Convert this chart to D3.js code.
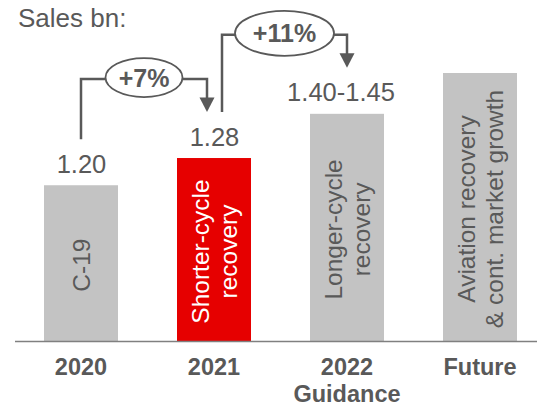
<!DOCTYPE html>
<html>
<head>
<meta charset="utf-8">
<script src="https://cdn.jsdelivr.net/npm/d3@7"></script>
<style>
  html, body { margin: 0; padding: 0; background: #fff; }
  svg { display: block; font-family: "Liberation Sans", Arial, Helvetica, sans-serif; }
</style>
</head>
<body>
<svg id="chart" width="537" height="405"></svg>
<script>
// ---- Data ----
const categories = ["2020", "2021", "2022", "Future"];
const categorySubLabels = ["", "", "Guidance", ""];
const salesValues = [1.20, 1.28, 1.41, 1.53];          // bar heights (bn)
const valueLabels = ["1.20", "1.28", "1.40-1.45", ""];
const barLabels = [["C-19"], ["Shorter-cycle", "recovery"], ["Longer-cycle", "recovery"], ["Aviation recovery", "& cont. market growth"]];
const highlight = [false, true, false, false];
const growthFrom = [0, 1];
const growthTo = [1, 2];
const growthLabels = ["+7%", "+11%"];
const yTitle = "Sales bn:";

// ---- Styles ----
const GREY = "#c3c3c3", RED = "#e60000", TXT = "#595959";

const svg = d3.select("#chart");
const baseline = 341;

const x = d3.scaleBand().domain(categories).range([14.5, 546.5]).paddingInner(0.4436).paddingOuter(0.2218);
const y = d3.scaleLinear().domain([0.742, 1.53]).range([baseline, 73]);

// title
svg.append("text").attr("x", 18).attr("y", 27).attr("font-size", 26).attr("fill", TXT).text(yTitle);

// bars
svg.selectAll("rect.bar").data(categories).join("rect")
  .attr("class", "bar")
  .attr("x", d => x(d))
  .attr("width", x.bandwidth())
  .attr("y", (d, i) => y(salesValues[i]))
  .attr("height", (d, i) => baseline - y(salesValues[i]))
  .attr("fill", (d, i) => highlight[i] ? RED : GREY);

// axis line
svg.append("line").attr("x1", 15).attr("x2", 537).attr("y1", baseline + 0.5).attr("y2", baseline + 0.5)
  .attr("stroke", "#808080").attr("stroke-width", 1.5);

// category labels
categories.forEach((c, i) => {
  const t = svg.append("text").attr("x", x(c) + x.bandwidth() / 2).attr("y", 374.5)
    .attr("text-anchor", "middle").attr("font-size", 23.5).attr("font-weight", "bold").attr("fill", TXT);
  t.append("tspan").attr("x", x(c) + x.bandwidth() / 2).text(c);
  if (categorySubLabels[i]) t.append("tspan").attr("x", x(c) + x.bandwidth() / 2).attr("dy", 27).text(categorySubLabels[i]);
});

// value labels
const valueDx = [0.5, 0.5, -6, 0];
categories.forEach((c, i) => {
  if (!valueLabels[i]) return;
  svg.append("text").attr("x", x(c) + x.bandwidth() / 2 + valueDx[i]).attr("y", y(salesValues[i]) - 12.5)
    .attr("text-anchor", "middle").attr("font-size", 25.5).attr("fill", TXT).text(valueLabels[i]);
});

// rotated in-bar labels
categories.forEach((c, i) => {
  const cx = x(c) + x.bandwidth() / 2;
  const cy = (y(salesValues[i]) + baseline) / 2 + 2;
  const lines = barLabels[i];
  const L = 28;
  const g = svg.append("text").attr("transform", `translate(${cx},${cy}) rotate(-90)`)
    .attr("text-anchor", "middle").attr("font-size", 24.5).attr("fill", highlight[i] ? "#ffffff" : TXT);
  lines.forEach((ln, k) => {
    const off = (k - (lines.length - 1) / 2) * L + 8.8;
    g.append("tspan").attr("x", 0).attr("y", off).text(ln);
  });
});

// growth brackets
const LC = "#595959";
const ellR = [[38.5, 19.5], [49.5, 22.5]];
const startDx = [0, 8];
const endDx = [-7, 0];
growthLabels.forEach((lab, k) => {
  const a = growthFrom[k], b = growthTo[k];
  const x0 = x(categories[a]) + x.bandwidth() / 2 + startDx[k];
  const x1 = x(categories[b]) + x.bandwidth() / 2 + endDx[k];
  const y0 = y(salesValues[a]) - 46;
  const tipY = y(salesValues[b]) - 46;
  const level = y(salesValues[b]) - 79;
  const headH = 14.5, headW = 7.5;
  svg.append("path")
    .attr("d", `M${x0},${y0} V${level} H${x1} V${tipY - headH + 1}`)
    .attr("fill", "none").attr("stroke", LC).attr("stroke-width", 2.5);
  svg.append("path")
    .attr("d", `M${x1 - headW},${tipY - headH} L${x1 + headW},${tipY - headH} L${x1},${tipY} Z`)
    .attr("fill", LC);
  const ex = (x0 + x1) / 2, ey = level - 1.5;
  svg.append("ellipse").attr("cx", ex).attr("cy", ey).attr("rx", ellR[k][0]).attr("ry", ellR[k][1])
    .attr("fill", "#fff").attr("stroke", LC).attr("stroke-width", 1.8);
  svg.append("text").attr("x", ex).attr("y", ey + 9).attr("text-anchor", "middle")
    .attr("font-size", 25).attr("font-weight", "bold").attr("fill", TXT).text(lab);
});
</script>
</body>
</html>
